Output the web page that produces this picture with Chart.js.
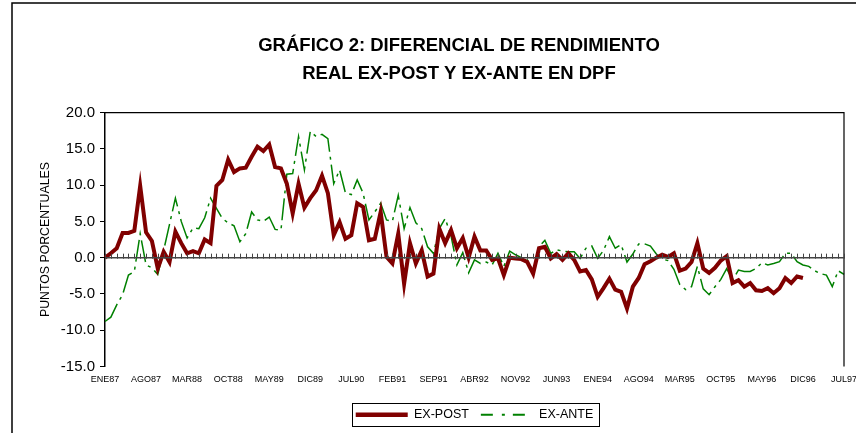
<!DOCTYPE html>
<html>
<head>
<meta charset="utf-8">
<script src="https://cdn.jsdelivr.net/npm/chart.js@4.4.0/dist/chart.umd.min.js"></script>
<style>
    html, body { margin: 0; padding: 0; background: #fff; }
    #wrap { width: 856px; height: 433px; }
</style>
</head>
<body>
<div id="wrap"><canvas id="grafico"></canvas></div>
<script>
// Meses ENE87 - JUL97
const labels = [
    'ENE87','FEB87','MAR87','ABR87','MAY87','JUN87','JUL87','AGO87','SEP87','OCT87','NOV87','DIC87',
    'ENE88','FEB88','MAR88','ABR88','MAY88','JUN88','JUL88','AGO88','SEP88','OCT88','NOV88','DIC88',
    'ENE89','FEB89','MAR89','ABR89','MAY89','JUN89','JUL89','AGO89','SEP89','OCT89','NOV89','DIC89',
    'ENE90','FEB90','MAR90','ABR90','MAY90','JUN90','JUL90','AGO90','SEP90','OCT90','NOV90','DIC90',
    'ENE91','FEB91','MAR91','ABR91','MAY91','JUN91','JUL91','AGO91','SEP91','OCT91','NOV91','DIC91',
    'ENE92','FEB92','MAR92','ABR92','MAY92','JUN92','JUL92','AGO92','SEP92','OCT92','NOV92','DIC92',
    'ENE93','FEB93','MAR93','ABR93','MAY93','JUN93','JUL93','AGO93','SEP93','OCT93','NOV93','DIC93',
    'ENE94','FEB94','MAR94','ABR94','MAY94','JUN94','JUL94','AGO94','SEP94','OCT94','NOV94','DIC94',
    'ENE95','FEB95','MAR95','ABR95','MAY95','JUN95','JUL95','AGO95','SEP95','OCT95','NOV95','DIC95',
    'ENE96','FEB96','MAR96','ABR96','MAY96','JUN96','JUL96','AGO96','SEP96','OCT96','NOV96','DIC96',
    'ENE97','FEB97','MAR97','ABR97','MAY97','JUN97','JUL97'
];

// Diferencial ex-post (termina en DIC96)
const exPost = [
    0.0, 0.6, 1.3, 3.4, 3.4, 3.7, 9.9, 3.5, 2.3, -1.5, 0.8, -0.6,
    3.6, 2.0, 0.6, 0.9, 0.6, 2.5, 2.0, 9.9, 10.7, 13.5, 11.8, 12.3,
    12.4, 13.9, 15.3, 14.7, 15.6, 12.5, 12.3, 10.2, 6.1, 10.2, 6.9, 8.2,
    9.3, 11.3, 8.9, 3.1, 4.9, 2.6, 3.1, 7.5, 7.0, 2.4, 2.6, 6.3,
    0.1, -0.8, 3.3, -3.6, 2.0, -0.8, 1.0, -2.6, -2.2, 4.0, 2.0, 3.8,
    1.3, 2.7, 0.0, 2.9, 1.0, 1.0, -0.3, -0.1, -2.4, 0.0, -0.1, -0.2,
    -0.6, -2.2, 1.3, 1.5, -0.1, 0.5, -0.3, 0.6, -0.3, -1.9, -1.7, -3.0,
    -5.4, -4.2, -2.9, -4.4, -4.7, -7.0, -4.0, -2.8, -0.9, -0.5, 0.0, 0.4,
    0.1, 0.6, -1.8, -1.5, -0.6, 2.0, -1.5, -2.1, -1.4, -0.4, 0.2, -3.5,
    -3.1, -4.0, -3.5, -4.5, -4.6, -4.2, -4.9, -4.2, -2.8, -3.5, -2.6, -2.8,
    null, null, null, null, null, null, null
];

// Diferencial ex-ante
const exAnte = [
    -8.8, -8.2, -6.5, -5.1, -2.4, -1.9, 3.3, -1.0, -1.4, -2.3, 1.0, 4.6,
    8.2, 5.0, 2.7, 4.1, 4.0, 5.5, 8.2, 6.8, 5.4, 4.8, 4.4, 2.2,
    3.3, 6.3, 5.2, 5.0, 5.6, 3.9, 3.8, 11.5, 11.6, 16.7, 12.1, 17.4,
    16.7, 17.0, 16.4, 10.2, 12.1, 8.9, 8.7, 10.7, 8.9, 5.2, 6.3, 7.5,
    5.2, 5.0, 8.6, 4.0, 6.9, 4.8, 4.0, 1.5, 0.6, 4.0, 5.4, 3.0,
    -1.0, 0.7, -2.1, -0.3, -0.8, -0.6, -1.0, 0.6, -1.2, 0.9, 0.4, 0.0,
    -0.3, -1.9, 1.5, 2.4, 0.6, 1.1, 0.9, 0.8, 0.8, -0.1, 1.3, 1.6,
    -0.1, 1.0, 2.9, 1.3, 1.8, -0.6, 0.5, 1.9, 1.9, 1.6, 0.5, -0.2,
    -0.4, -1.6, -3.7, -4.4, -4.0, -1.2, -4.3, -5.1, -4.0, -3.0, -1.5, -3.1,
    -1.7, -1.9, -1.9, -1.5, -0.7, -1.0, -0.8, -0.55, 0.6, 0.6, -0.55, -1.0,
    -1.2, -1.8, -2.2, -2.4, -4.0, -1.8, -2.3
];

const yTicks = [-15, -10, -5, 0, 5, 10, 15, 20];

Chart.defaults.font.family = 'Arial, "Liberation Sans", sans-serif';
Chart.defaults.color = '#000';

// Marco exterior, borde del area de trazado y eje en cero con marcas mensuales
const marcoPlugin = {
    id: 'marco',
    beforeDraw(chart) {
        const ctx = chart.ctx;
        ctx.save();
        ctx.fillStyle = '#fff';
        ctx.fillRect(0, 0, chart.width, chart.height);
        ctx.strokeStyle = '#000';
        ctx.lineWidth = 1.5;
        ctx.beginPath();
        ctx.moveTo(12, 433);
        ctx.lineTo(12, 3);
        ctx.lineTo(856, 3);
        ctx.stroke();
        ctx.restore();
    },
    afterDatasetsDraw(chart) {
        const ctx = chart.ctx;
        const area = chart.chartArea;
        const x = chart.scales.x;
        const y0 = chart.scales.y.getPixelForValue(0);
        ctx.save();
        // borde superior y derecho
        ctx.strokeStyle = '#000';
        ctx.lineWidth = 1.2;
        ctx.beginPath();
        ctx.moveTo(area.left, area.top);
        ctx.lineTo(area.right, area.top);
        ctx.lineTo(area.right, area.bottom);
        ctx.stroke();
        // eje horizontal en 0
        ctx.strokeStyle = '#444';
        ctx.lineWidth = 1.5;
        ctx.beginPath();
        ctx.moveTo(area.left, y0);
        ctx.lineTo(area.right, y0);
        ctx.stroke();
        ctx.lineWidth = 1;
        ctx.beginPath();
        for (let i = 0; i < labels.length; i++) {
            const px = Math.round(x.getPixelForValue(i)) + 0.5;
            ctx.moveTo(px, y0 - 4);
            ctx.lineTo(px, y0 + 1);
        }
        ctx.stroke();
        ctx.restore();
    },
    afterDraw(chart) {
        // recuadro de la leyenda
        const boxes = chart.legend.legendHitBoxes;
        if (!boxes || !boxes.length) return;
        const first = boxes[0];
        const last = boxes[boxes.length - 1];
        const ctx = chart.ctx;
        ctx.save();
        ctx.strokeStyle = '#000';
        ctx.lineWidth = 1;
        const left = Math.round(first.left - 4) + 0.5;
        const right = Math.round(last.left + last.width + 6) + 0.5;
        const top = Math.round(first.top - 6) + 0.5;
        const bottom = Math.round(first.top + first.height + 5) + 0.5;
        ctx.strokeRect(left, top, right - left, bottom - top);
        ctx.restore();
    }
};

new Chart(document.getElementById('grafico'), {
    type: 'line',
    data: {
        labels: labels,
        datasets: [
            {
                label: 'EX-POST',
                data: exPost,
                borderColor: '#800000',
                backgroundColor: '#800000',
                borderWidth: 4,
                pointRadius: 0,
                tension: 0,
                spanGaps: false
            },
            {
                label: 'EX-ANTE',
                data: exAnte,
                borderColor: '#008000',
                backgroundColor: '#008000',
                borderWidth: 1.5,
                borderDash: [22, 5, 3, 5],
                pointRadius: 0,
                tension: 0
            }
        ]
    },
    options: {
        responsive: true,
        maintainAspectRatio: false,
        animation: false,
        layout: {
            // el titulo queda centrado algo a la izquierda del area de trazado
            padding: { left: 34, right: -28, top: 0, bottom: 2 }
        },
        scales: {
            x: {
                grid: { display: false, drawTicks: false },
                border: { display: false },
                ticks: {
                    autoSkip: false,
                    maxRotation: 0,
                    minRotation: 0,
                    padding: 8,
                    font: { size: 9 },
                    callback: (v, i) => (i % 7 === 0 ? labels[i] : null)
                },
                afterFit: s => {
                    s.height = 30;
                    s.paddingLeft = 0;
                    s.paddingRight = 0;
                }
            },
            y: {
                min: -15,
                max: 20,
                afterBuildTicks: s => {
                    s.ticks = yTicks.map(v => ({ value: v }));
                },
                ticks: {
                    padding: 5,
                    font: { size: 15 },
                    callback: v => v.toFixed(1)
                },
                grid: {
                    drawOnChartArea: false,
                    drawTicks: true,
                    tickLength: 5,
                    color: '#000'
                },
                border: { display: true, color: '#000', width: 1.5 },
                title: {
                    display: true,
                    text: 'PUNTOS PORCENTUALES',
                    font: { size: 12.3 },
                    padding: { top: 4, bottom: 4 }
                },
                afterFit: s => { s.width = 71; }
            },
            // margen derecho vacio
            margenDer: {
                type: 'linear',
                axis: 'y',
                position: 'right',
                display: true,
                grid: { display: false, drawTicks: false },
                border: { display: false },
                ticks: { display: false },
                afterFit: s => { s.width = 40; }
            }
        },
        plugins: {
            title: {
                display: true,
                text: ['GRÁFICO 2: DIFERENCIAL DE RENDIMIENTO', 'REAL EX-POST Y EX-ANTE EN DPF'],
                color: '#000',
                font: { size: 18.5, weight: 'bold', lineHeight: 1.515 },
                padding: { top: 32, bottom: 24.5 }
            },
            legend: {
                position: 'bottom',
                fullSize: false,
                labels: {
                    usePointStyle: true,
                    pointStyle: 'line',
                    pointStyleWidth: 52,
                    padding: 12,
                    color: '#000',
                    font: { size: 12.5 },
                    generateLabels: chart => {
                        const items = Chart.defaults.plugins.legend.labels.generateLabels(chart);
                        items.forEach(it => {
                            if (it.datasetIndex === 0) it.lineWidth = 4.5;
                            if (it.datasetIndex === 1) { it.lineDash = [12, 9, 3, 8]; it.lineWidth = 2; }
                        });
                        return items;
                    }
                }
            },
            tooltip: { enabled: false }
        }
    },
    plugins: [marcoPlugin]
});
</script>
</body>
</html>
